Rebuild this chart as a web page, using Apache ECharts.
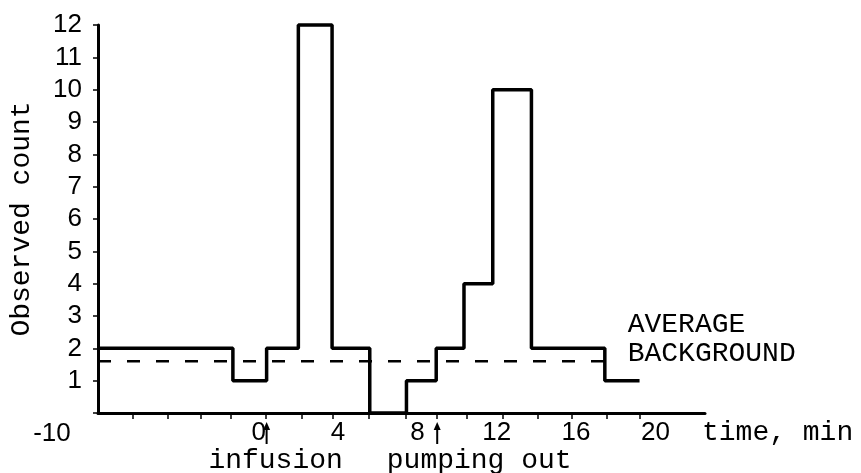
<!DOCTYPE html>
<html>
<head>
<meta charset="utf-8">
<script src="https://cdn.jsdelivr.net/npm/echarts@6/dist/echarts.min.js"></script>
<style>
html, body { margin: 0; background: #fff; }
#chart { width: 861px; height: 473px; }
</style>
</head>
<body>
<div id="chart"></div>
<script>
// interval edges (min) and the count observed in each interval
var edges = [-8.1, -1.3, 0.4, 2.0, 3.7, 5.6, 7.45, 8.95, 10.35, 11.8, 13.75, 17.45, 19.2];
var counts = [2, 1, 2, 12, 2, 0, 1, 2, 4, 10, 2, 1];
// average background level and where its dashed line runs
var background = 1.6;
var backgroundSpan = [-8.1, 18.2];
// axis marks as drawn on the original
var xTicks = [-6.35, -4.6, -2.9, -1.4, 0.35, 2.15, 3.75, 5.55, 7.4, 9.0, 10.5, 12.3, 14.05, 15.8, 17.55, 19.2];
var xLabels = [0, 4, 8, 12, 16, 20];
var eventTimes = [0.4, 9.0];
var eventNames = ['infusion', 'pumping out'];

var mono = 'Liberation Mono';
var sans = 'Liberation Sans';

var stepData = edges.map(function (e, i) {
    return [e, counts[Math.min(i, counts.length - 1)]];
});

var chart = echarts.init(document.getElementById('chart'));
chart.setOption({
    animation: false,
    backgroundColor: '#fff',
    grid: { left: 97, right: 156, top: 25, bottom: 60 },
    xAxis: {
        type: 'value',
        min: -8.1,
        max: 22.5,
        name: 'time, min',
        nameLocation: 'end',
        nameGap: -3,
        nameTextStyle: {
            fontFamily: mono, fontSize: 28, color: '#000',
            align: 'left', verticalAlign: 'top', padding: [6, 0, 0, 0]
        },
        axisLine: { onZero: false, lineStyle: { color: '#000', width: 3 } },
        axisTick: { customValues: xTicks, length: 6, lineStyle: { color: '#000', width: 1.5 } },
        axisLabel: { customValues: xLabels, margin: 7, fontFamily: sans, fontSize: 26, color: '#000' },
        splitLine: { show: false }
    },
    yAxis: {
        type: 'value',
        min: 0,
        max: 12,
        interval: 1,
        name: 'Observed count',
        nameLocation: 'middle',
        nameRotate: 90,
        nameGap: 62,
        nameTextStyle: { fontFamily: mono, fontSize: 28, color: '#000' },
        axisLine: { show: true, onZero: false, lineStyle: { color: '#000', width: 3 } },
        axisTick: { show: true, length: 5, lineStyle: { color: '#000', width: 1.5 } },
        axisLabel: {
            margin: 16, fontFamily: sans, fontSize: 26, color: '#000',
            formatter: function (v) { return v === 0 ? '' : v; }
        },
        splitLine: { show: false }
    },
    series: [
        {
            type: 'line',
            step: 'end',
            data: stepData,
            symbol: 'none',
            clip: false,
            z: 3,
            lineStyle: { color: '#000', width: 3.5 }
        },
        {
            type: 'line',
            data: backgroundSpan.map(function (x) { return [x, background]; }),
            symbol: 'none',
            clip: false,
            lineStyle: { color: '#000', width: 2.5, type: [13, 16] },
            endLabel: {
                show: true,
                formatter: 'AVERAGE\nBACKGROUND',
                fontFamily: mono,
                fontSize: 28,
                lineHeight: 29,
                color: '#000',
                offset: [0, -22]
            }
        }
    ]
});

// arrows under the time axis for the two events
var axisY = chart.convertToPixel({ yAxisIndex: 0 }, 0);
var textShift = [9, 42];
var elements = [];
eventTimes.forEach(function (t, i) {
    var x = chart.convertToPixel({ xAxisIndex: 0 }, t);
    elements.push({
        type: 'line',
        shape: { x1: x, y1: axisY + 31, x2: x, y2: axisY + 14 },
        style: { stroke: '#000', lineWidth: 2 }
    });
    elements.push({
        type: 'polygon',
        shape: { points: [[x - 3.5, axisY + 17], [x + 3.5, axisY + 17], [x, axisY + 9]] },
        style: { fill: '#000' }
    });
    elements.push({
        type: 'text',
        x: x + textShift[i],
        y: axisY + 48,
        style: {
            text: eventNames[i], fontFamily: mono, fontSize: 28, fill: '#000',
            align: 'center', verticalAlign: 'middle'
        }
    });
});
elements.push({
    type: 'text',
    x: 52,
    y: axisY + 21,
    style: { text: '-10', fontFamily: sans, fontSize: 26, fill: '#000', align: 'center', verticalAlign: 'middle' }
});
chart.setOption({ graphic: elements });
</script>
</body>
</html>
